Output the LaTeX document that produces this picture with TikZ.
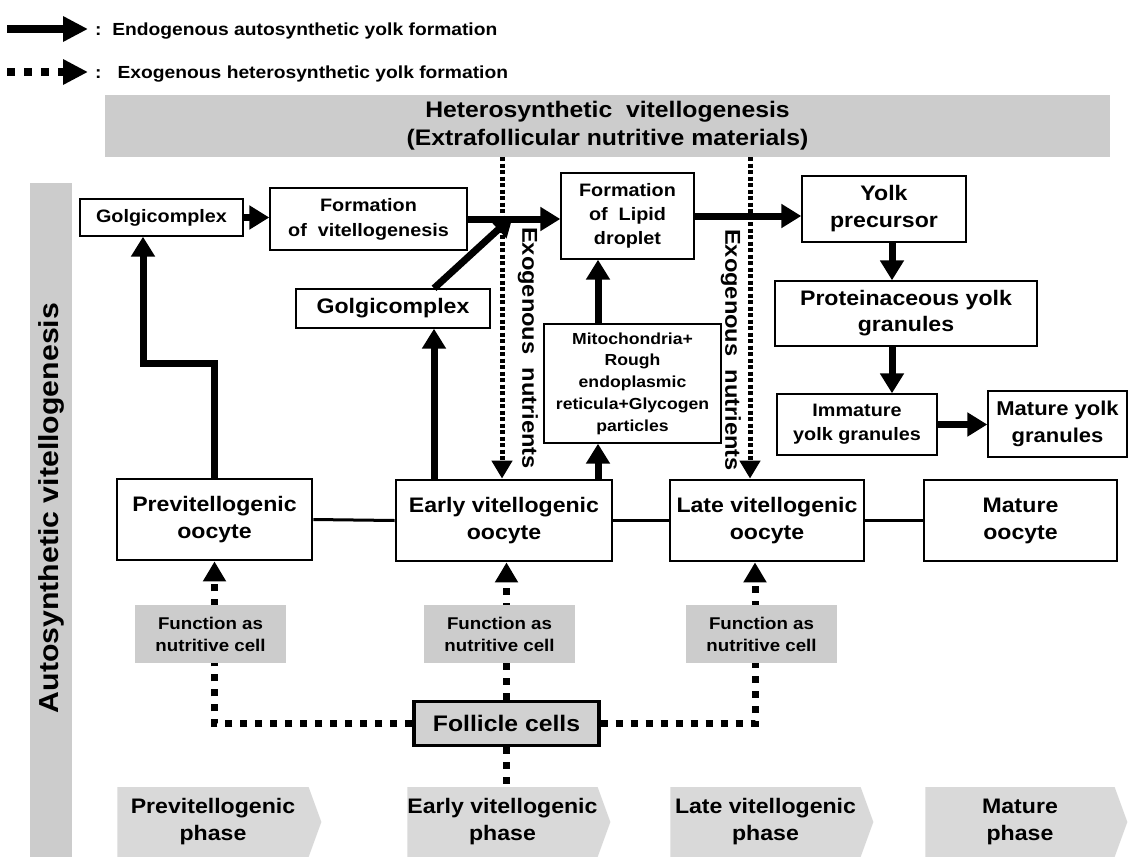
\documentclass[tikz,border=0pt]{standalone}
\usepackage{fontspec}
\setmainfont[FakeStretch=1.1]{Liberation Sans}
\usetikzlibrary{arrows.meta,shapes.symbols}
\newcommand\fsz[2]{\fontsize{#1}{#2}\selectfont}

\begin{document}
\begin{tikzpicture}[x=1pt,y=-1pt,
    box/.style={draw, line width=1.4pt, fill=white, align=center, inner sep=0pt},
    oobox/.style={box, line width=2.8pt, minimum width=#1, minimum height=81pt, font=\bfseries\fsz{21}{27}},
    greybox/.style={fill=black!20, align=center, inner sep=0pt, minimum width=151pt, minimum height=58pt, font=\bfseries\fsz{17}{22}},
    phasebox/.style={signal, signal to=east, signal pointer angle=140, fill=black!15, align=center, inner sep=0pt, minimum height=70pt, font=\bfseries\fsz{21}{27}},
    auto arrow/.style={line width=7pt, -{Triangle[length=20pt,width=23pt]}},
    exo arrow/.style={line width=5pt, dash pattern=on 4pt off 2.5pt, -{Triangle[length=18pt,width=20pt]}},
    cell arrow/.style={line width=7pt, dash pattern=on 7pt off 8pt, -{Triangle[length=20pt,width=22pt]}},
  ]
  \useasboundingbox (0,0) rectangle (1128,857);

  % legend
  \coordinate (solidA) at (7,29);
  \coordinate (solidB) at (88,29);
  \coordinate (dotA) at (7,72);
  \coordinate (dotB) at (88,72);
  \draw[line width=8pt, -{Triangle[length=25pt,width=24pt]}] (solidA) -- (solidB);
  \draw[line width=8pt, dash pattern=on 8pt off 9pt, -{Triangle[length=25pt,width=24pt]}] (dotA) -- (dotB);
  \node[anchor=west, inner sep=0pt, font=\bfseries\fsz{17.5}{20}] (legsolid) at (95,31) {:\ \ Endogenous autosynthetic yolk formation};
  \node[anchor=west, inner sep=0pt, font=\bfseries\fsz{17.5}{20}] (legdot) at (95,74) {:\ \ \ Exogenous heterosynthetic yolk formation};

  % grey bands
  \node[fill=black!20, minimum width=1005pt, minimum height=62pt, align=center, font=\bfseries\fsz{22.5}{28}] (hetero) at (607.5,126) {Heterosynthetic\ \ vitellogenesis\\(Extrafollicular nutritive materials)};
  \node[fill=black!20, rotate=90, minimum width=674pt, minimum height=42pt] (autosyn) at (51,520) {};
  \node[rotate=90, font=\bfseries\fsz{27.5}{30}] (autotext) at (51,508) {Autosynthetic vitellogenesis};

  % yolk formation boxes
  \node[box, minimum width=163pt, minimum height=37pt, font=\bfseries\fsz{18}{20}] (golgiA) at (161.5,217.5) {Golgicomplex};
  \node[box, minimum width=197pt, minimum height=62pt, font=\bfseries\fsz{18}{25}] (formvit) at (368.5,219) {Formation\\of\ \ vitellogenesis};
  \node[box, minimum width=194pt, minimum height=39pt, font=\bfseries\fsz{21}{25}] (golgiB) at (393,308.5) {Golgicomplex};
  \node[box, minimum width=133pt, minimum height=86pt, font=\bfseries\fsz{18}{24}] (lipid) at (627.5,216) {Formation\\of\ \ Lipid\\droplet};
  \node[box, minimum width=177pt, minimum height=119pt, font=\bfseries\fsz{16}{21.7}] (mito) at (632.5,383.5) {Mitochondria+\\Rough\\endoplasmic\\reticula+Glycogen\\particles};
  \node[box, minimum width=164pt, minimum height=66pt, font=\bfseries\fsz{21}{27}] (yolkpre) at (884,209) {Yolk\\precursor};
  \node[box, minimum width=262pt, minimum height=65pt, font=\bfseries\fsz{21}{26}] (protein) at (906,313.5) {Proteinaceous yolk\\granules};
  \node[box, minimum width=160pt, minimum height=61pt, font=\bfseries\fsz{18}{24}] (immature) at (857,424.5) {Immature\\yolk granules};
  \node[box, minimum width=139pt, minimum height=66pt, font=\bfseries\fsz{20}{27}] (matureyolk) at (1057.5,424) {Mature yolk\\granules};

  % oocytes
  \node[oobox=195pt] (prevoo) at (214.5,519.5) {Previtellogenic\\oocyte};
  \node[oobox=216pt] (earlyoo) at (504,520.5) {Early vitellogenic\\oocyte};
  \node[oobox=194pt] (lateoo) at (767,520.5) {Late vitellogenic\\oocyte};
  \node[oobox=193pt] (matureoo) at (1020.5,520.5) {Mature\\oocyte};
  \draw[line width=3pt] (prevoo.east) -- (earlyoo.west);
  \draw[line width=3pt] (earlyoo.east) -- (lateoo.west);
  \draw[line width=3pt] (lateoo.east) -- (matureoo.west);

  % follicle cells and phases
  \node[box, fill=black!18, line width=3.2pt, minimum width=185pt, minimum height=44pt, font=\bfseries\fsz{22.5}{26}] (follicle) at (506.5,723.5) {Follicle cells};
  \node[phasebox, minimum width=204pt] (phaseA) at (213,822) {Previtellogenic\\phase};
  \node[phasebox, minimum width=203pt] (phaseB) at (502.5,822) {Early vitellogenic\\phase};
  \node[phasebox, minimum width=203pt] (phaseC) at (765.5,822) {Late vitellogenic\\phase};
  \node[phasebox, minimum width=202pt] (phaseD) at (1020,822) {Mature\\phase};

  % exogenous nutrients
  \coordinate (xexoA) at (502,0);
  \coordinate (xexoB) at (750,0);
  \draw[exo arrow] (hetero.south -| xexoA) -- (earlyoo.north -| xexoA);
  \draw[exo arrow] (hetero.south -| xexoB) -- (lateoo.north -| xexoB);
  \node[rotate=-90, font=\bfseries\fsz{21.5}{24}] (exoA) at (528,348) {Exogenous\ \ nutrients};
  \node[rotate=-90, font=\bfseries\fsz{21.5}{24}] (exoB) at (731,350) {Exogenous\ \ nutrients};

  % autosynthetic arrows
  \coordinate (bendA) at (143,363);
  \coordinate (xgolgi) at (434,0);
  \coordinate (joint) at (513,216);
  \coordinate (xmito) at (598,0);
  \coordinate (xyolk) at (892,0);
  \draw[auto arrow] (prevoo.north) |- (bendA) -- (golgiA.south -| bendA);
  \draw[auto arrow] (golgiA.east) -- (golgiA.east -| formvit.west);
  \draw[auto arrow] (formvit.east) -- (formvit.east -| lipid.west);
  \draw[auto arrow] (earlyoo.north -| xgolgi) -- (golgiB.south -| xgolgi);
  \draw[auto arrow] (golgiB.north -| xgolgi) -- (joint);
  \draw[auto arrow] (earlyoo.north -| xmito) -- (mito.south -| xmito);
  \draw[auto arrow] (mito.north -| xmito) -- (lipid.south -| xmito);
  \draw[auto arrow] (lipid.east) -- (lipid.east -| yolkpre.west);
  \draw[auto arrow] (yolkpre.south -| xyolk) -- (protein.north -| xyolk);
  \draw[auto arrow] (protein.south -| xyolk) -- (immature.north -| xyolk);
  \draw[auto arrow] (immature.east) -- (immature.east -| matureyolk.west);

  % follicle cells feed the oocytes
  \draw[cell arrow] (follicle.west) -| (prevoo.south);
  \draw[cell arrow] (follicle.north) -- (follicle.north |- earlyoo.south);
  \draw[cell arrow] (follicle.east) -| ([xshift=-12pt]lateoo.south);
  \draw[cell arrow, -] (follicle.south) -- (follicle.south |- phaseB.north);
  \node[greybox] (funcA) at (210.5,634) {Function as\\nutritive cell};
  \node[greybox] (funcB) at (499.5,634) {Function as\\nutritive cell};
  \node[greybox] (funcC) at (761.5,634) {Function as\\nutritive cell};
\end{tikzpicture}
\end{document}
